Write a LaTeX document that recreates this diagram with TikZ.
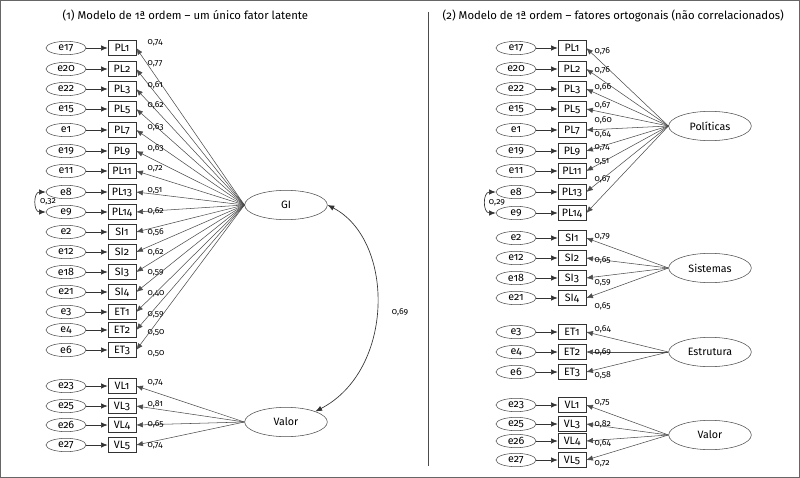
\documentclass[tikz,border=0pt]{standalone}
\usepackage{fontspec}
\setmainfont{Fira Sans}[Numbers=OldStyle]
\usetikzlibrary{arrows.meta,shapes.geometric}
\begin{document}
\begin{tikzpicture}[x=0.75pt,y=-0.75pt,
 err/.style={draw=black!70,ellipse,minimum width=30pt,minimum height=10pt,inner sep=0pt,font=\fontsize{8}{8}\selectfont},
 obs/.style={draw=black!80,rectangle,minimum width=21pt,minimum height=11pt,inner sep=1pt,font=\fontsize{8}{8}\selectfont},
 lat/.style={draw=black!70,ellipse,minimum width=62pt,minimum height=22pt,inner sep=0pt,font=\fontsize{8}{8}\selectfont},
 arr/.style={-{Latex[length=5pt,width=4pt]},black!80,line width=0.5pt},
 ld/.style={black!70,line width=0.4pt,-{Latex[length=5pt,width=4pt]}},
 lab/.style={font=\fontsize{6.5}{6.5}\selectfont,inner sep=1pt}]
\useasboundingbox (0,0) rectangle (800,478);
\draw[black!60,line width=1pt] (0.5,0.5) rectangle (799.5,477.5);
\draw[black!70,line width=0.6pt] (428,12) -- (428,466);
\node[anchor=west,font=\fontsize{8.5}{9}\selectfont] (t1) at (58,16) {(1) Modelo de 1ª ordem – um único fator latente};
\node[anchor=west,font=\fontsize{8.5}{9}\selectfont] (t2) at (438,16) {(2) Modelo de 1ª ordem – fatores ortogonais (não correlacionados)};
% left
\node[lat] (GI) at (286,205) {GI};
\node[lat] (VA) at (286,422) {Valor};
\foreach \e/\o/\y/\l [count=\i] in {e17/PL1/48/0{,}74,e20/PL2/69/0{,}77,e22/PL3/89/0{,}61,e15/PL5/109/0{,}62,e1/PL7/130/0{,}63,e19/PL9/151/0{,}63,e11/PL11/171/0{,}72,e8/PL13/192/0{,}51,e9/PL14/212/0{,}62,e2/SI1/232/0{,}56,e12/SI2/252/0{,}62,e18/SI3/272/0{,}59,e21/SI4/292/0{,}40,e3/ET1/312/0{,}59,e4/ET2/330/0{,}50,e6/ET3/350/0{,}50}{
 \node[err] (Le\i) at (66,\y) {\e};
 \node[obs] (Lo\i) at (122,\y) {\o};
 \draw[arr] (Le\i) -- (Lo\i);
 \draw[ld] (GI.west) -- (Lo\i.east);
 \node[lab,anchor=west] (Ll\i) at (146,\y-6+\i*0.6) {\l};
}
\foreach \e/\o/\y/\l [count=\i] in {e23/VL1/386/0{,}74,e25/VL3/406/0{,}81,e26/VL4/425/0{,}65,e27/VL5/445/0{,}74}{
 \node[err] (LVe\i) at (66,\y) {\e};
 \node[obs] (LVo\i) at (122,\y) {\o};
 \draw[arr] (LVe\i) -- (LVo\i);
 \draw[ld] (VA.west) -- (LVo\i.east);
 \node[lab,anchor=west] (LVl\i) at (146,\y-5+\i*1.5) {\l};
}
\draw[arr,{Latex[length=5pt,width=4pt]}-{Latex[length=5pt,width=4pt]}] (Le8.west) to[out=180,in=180,looseness=1.6] (Le9.west);
\node[lab] (Lc) at (48,202) {0,32};
\draw[arr,{Latex[length=5pt,width=4pt]}-{Latex[length=5pt,width=4pt]}] (GI.east) .. controls (395,240) and (395,370) .. (VA.north east);
\node[lab] (Lr) at (400,312) {0,69};
% right
\node[lat] (PO) at (710,126) {Políticas};
\node[lat] (SI) at (710,268) {Sistemas};
\node[lat] (ES) at (710,352) {Estrutura};
\node[lat] (RV) at (710,435) {Valor};
\foreach \e/\o/\y/\l [count=\i] in {e17/PL1/48/0{,}76,e20/PL2/69/0{,}76,e22/PL3/89/0{,}66,e15/PL5/109/0{,}67,e1/PL7/130/0{,}60,e19/PL9/151/0{,}64,e11/PL11/171/0{,}74,e8/PL13/192/0{,}51,e9/PL14/213/0{,}67}{
 \node[err] (Pe\i) at (516,\y) {\e};
 \node[obs] (Po\i) at (572,\y) {\o};
 \draw[arr] (Pe\i) -- (Po\i);
 \draw[ld] (PO.west) -- (Po\i.east);
}
\foreach \l/\y [count=\i] in {0{,}76/51,0{,}76/70,0{,}66/87,0{,}67/105,0{,}60/120,0{,}64/134,0{,}74/148,0{,}51/162,0{,}67/179}
 \node[lab,anchor=west] (Pl\i) at (593,\y) {\l};
\draw[arr,{Latex[length=5pt,width=4pt]}-{Latex[length=5pt,width=4pt]}] (Pe8.west) to[out=180,in=180,looseness=1.6] (Pe9.west);
\node[lab] (Pc) at (497,203) {0,29};
\foreach \e/\o/\y/\l [count=\i] in {e2/SI1/238/0{,}79,e12/SI2/258/0{,}65,e18/SI3/278/0{,}59,e21/SI4/298/0{,}65}{
 \node[err] (Se\i) at (516,\y) {\e};
 \node[obs] (So\i) at (572,\y) {\o};
 \draw[arr] (Se\i) -- (So\i);
 \draw[ld] (SI.west) -- (So\i.east);
 \node[lab,anchor=west] (Sl\i) at (593,\y-4+\i*3) {\l};
}
\foreach \e/\o/\y/\l [count=\i] in {e3/ET1/332/0{,}64,e4/ET2/352/0{,}69,e6/ET3/372/0{,}58}{
 \node[err] (Ee\i) at (516,\y) {\e};
 \node[obs] (Eo\i) at (572,\y) {\o};
 \draw[arr] (Ee\i) -- (Eo\i);
 \draw[ld] (ES.west) -- (Eo\i.east);
 \node[lab,anchor=west] (El\i) at (593,\y-6+\i*3) {\l};
}
\foreach \e/\o/\y/\l [count=\i] in {e23/VL1/405/0{,}75,e25/VL3/424/0{,}82,e26/VL4/441/0{,}64,e27/VL5/460/0{,}72}{
 \node[err] (Ve\i) at (516,\y) {\e};
 \node[obs] (Vo\i) at (572,\y) {\o};
 \draw[arr] (Ve\i) -- (Vo\i);
 \draw[ld] (RV.west) -- (Vo\i.east);
 \node[lab,anchor=west] (Vl\i) at (593,\y-4+\i*2) {\l};
}
\end{tikzpicture}
\end{document}
